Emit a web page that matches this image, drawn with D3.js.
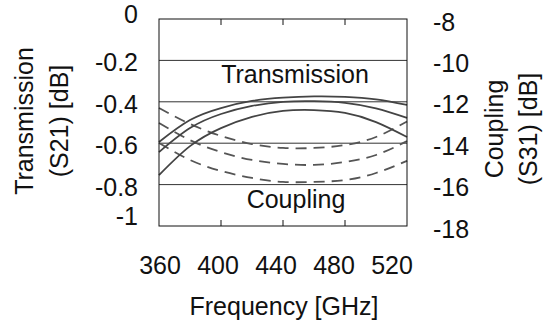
<!DOCTYPE html>
<html>
<head>
<meta charset="utf-8">
<script src="https://cdn.jsdelivr.net/npm/d3@7"></script>
<style>
  body { margin: 0; background: #fff; }
  text { font-family: "Liberation Sans", Arial, sans-serif; fill: #111; }
</style>
</head>
<body>
<svg id="chart" width="545" height="323"></svg>
<script>
// data
const freqs = [360, 380, 400, 420, 440, 460, 480, 500, 520];
// transmission S21 [dB], left axis
const transTop = [-0.594, -0.488, -0.43, -0.396, -0.38, -0.374, -0.376, -0.388, -0.415];
const transMid = [-0.643, -0.527, -0.459, -0.42, -0.40, -0.397, -0.405, -0.432, -0.478];
const transLow = [-0.754, -0.614, -0.527, -0.473, -0.444, -0.44, -0.454, -0.498, -0.57];
// coupling S31 [dB], right axis
const coupTop = [-12.3, -13.07, -13.65, -14.04, -14.23, -14.23, -14.09, -13.7, -12.95];
const coupMid = [-13.02, -13.85, -14.43, -14.81, -15.0, -15.05, -14.91, -14.57, -13.9];
const coupLow = [-13.99, -14.81, -15.34, -15.68, -15.87, -15.87, -15.78, -15.44, -14.85];

const xTicks = [360, 400, 440, 480, 520];
const leftTicks = [0, -0.2, -0.4, -0.6, -0.8, -1];
const rightTicks = [-8, -10, -12, -14, -16, -18];

const margin = { top: 19, left: 159 };
const width = 248;
const height = 207;

const svg = d3.select("#chart");

const x = d3.scaleLinear().domain([360, 520]).range([margin.left, margin.left + width]);
const yL = d3.scaleLinear().domain([-1, 0]).range([margin.top + height, margin.top]);
const yR = d3.scaleLinear().domain([-18, -8]).range([margin.top + height, margin.top]);
// tick labels sit a little tighter than the ticks themselves
const xLab = d3.scaleLinear().domain([360, 520]).range([160, 392]);

// gridlines
svg.selectAll(".grid")
  .data(leftTicks.slice(1, -1))
  .enter()
  .append("line")
  .attr("x1", margin.left)
  .attr("x2", margin.left + width)
  .attr("y1", (d) => yL(d))
  .attr("y2", (d) => yL(d))
  .attr("stroke", "#333")
  .attr("stroke-width", 1);

// lines
const lineL = d3.line().x((d, i) => x(freqs[i])).y((d) => yL(d)).curve(d3.curveNatural);
const lineR = d3.line().x((d, i) => x(freqs[i])).y((d) => yR(d)).curve(d3.curveNatural);

[coupTop, coupMid, coupLow].forEach((s) => {
  svg.append("path")
    .datum(s)
    .attr("fill", "none")
    .attr("stroke", "#555")
    .attr("stroke-width", 1.8)
    .attr("stroke-dasharray", "11,7")
    .attr("d", lineR);
});

[transTop, transMid, transLow].forEach((s) => {
  svg.append("path")
    .datum(s)
    .attr("fill", "none")
    .attr("stroke", "#444")
    .attr("stroke-width", 1.8)
    .attr("d", lineL);
});

// frame
svg.append("rect")
  .attr("x", margin.left)
  .attr("y", margin.top)
  .attr("width", width)
  .attr("height", height)
  .attr("fill", "none")
  .attr("stroke", "#111")
  .attr("stroke-width", 1);

// inner ticks top and bottom
xTicks.slice(1, -1).forEach((t) => {
  svg.append("line")
    .attr("x1", x(t)).attr("x2", x(t))
    .attr("y1", margin.top).attr("y2", margin.top + 6)
    .attr("stroke", "#111");
  svg.append("line")
    .attr("x1", x(t)).attr("x2", x(t))
    .attr("y1", margin.top + height).attr("y2", margin.top + height - 6)
    .attr("stroke", "#111");
});

const fs = "25px";

// left tick labels (plain hyphen minus, like the original)
svg.selectAll(".lt")
  .data(leftTicks)
  .enter()
  .append("text")
  .attr("x", 138)
  .attr("y", (d, i) => yL(d) + (i === 0 ? -5 : i === leftTicks.length - 1 ? -10 : 2))
  .attr("dy", "0.36em")
  .attr("text-anchor", "end")
  .style("font-size", fs)
  .text((d) => String(d));

// right tick labels
svg.selectAll(".rt")
  .data(rightTicks)
  .enter()
  .append("text")
  .attr("x", 433)
  .attr("y", (d) => yR(d) + 2.5)
  .attr("dy", "0.36em")
  .style("font-size", fs)
  .text((d) => String(d));

// x tick labels
svg.selectAll(".xt")
  .data(xTicks)
  .enter()
  .append("text")
  .attr("x", (d) => xLab(d))
  .attr("y", 274)
  .attr("text-anchor", "middle")
  .style("font-size", fs)
  .text((d) => d);

// axis titles
svg.append("text")
  .attr("x", 284)
  .attr("y", 315)
  .attr("text-anchor", "middle")
  .style("font-size", fs)
  .text("Frequency [GHz]");

const leftTitle = svg.append("text")
  .attr("transform", "translate(33,121) rotate(-90)")
  .attr("text-anchor", "middle")
  .style("font-size", fs);
leftTitle.append("tspan").attr("x", 0).attr("y", 0).text("Transmission");
leftTitle.append("tspan").attr("x", 0).attr("y", 35).text("(S21) [dB]");

const rightTitle = svg.append("text")
  .attr("transform", "translate(503,129) rotate(-90)")
  .attr("text-anchor", "middle")
  .style("font-size", fs);
rightTitle.append("tspan").attr("x", 0).attr("y", 0).text("Coupling");
rightTitle.append("tspan").attr("x", 0).attr("y", 34).text("(S31) [dB]");

// in-plot annotations
svg.append("text")
  .attr("x", 295)
  .attr("y", 83)
  .attr("text-anchor", "middle")
  .style("font-size", fs)
  .text("Transmission");

svg.append("text")
  .attr("x", 296)
  .attr("y", 208)
  .attr("text-anchor", "middle")
  .style("font-size", fs)
  .text("Coupling");
</script>
</body>
</html>
